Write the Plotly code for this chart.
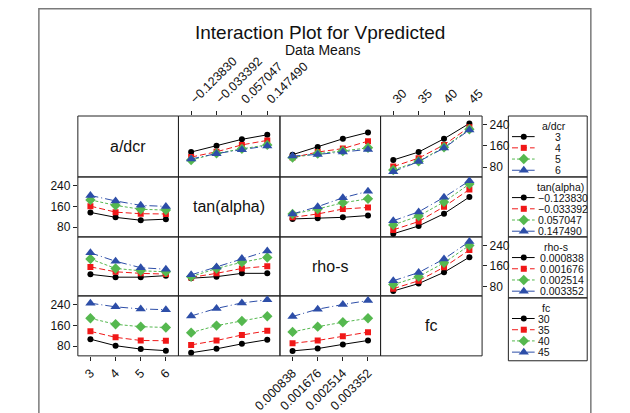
import plotly.graph_objects as go

# ---------------- data ----------------
factor_names = ["a/dcr", "tan(alpha)", "rho-s", "fc"]
adcr_levels = ["3", "4", "5", "6"]
tan_levels = ["\u22120.123830", "\u22120.033392", "0.057047", "0.147490"]
rho_levels = ["0.000838", "0.001676", "0.002514", "0.003352"]
fc_levels = ["30", "35", "40", "45"]
y_ticks = [80, 160, 240]

# two-way data means: rows = levels of first factor, cols = levels of second
mean_adcr_tan = [[137, 161, 185, 202], [118, 138, 164, 181], [107, 132, 149, 164], [111, 131, 146, 160]]
mean_adcr_rho = [[127, 156, 187, 211], [116, 137, 150, 178], [116, 131, 141, 153], [122, 128, 137, 147]]
mean_adcr_fc = [[107, 137, 187, 245], [82, 114, 164, 231], [69, 102, 155, 223], [63, 101, 152, 220]]
mean_tan_rho = [[112, 115, 118, 125], [118, 131, 150, 156], [131, 150, 174, 189], [131, 159, 193, 218]]
mean_tan_fc = [[55, 85, 132, 196], [70, 102, 159, 225], [89, 123, 177, 246], [105, 139, 195, 258]]
mean_rho_fc = [[62, 91, 135, 194], [71, 102, 155, 222], [87, 118, 172, 240], [102, 134, 187, 255]]

# ---------------- layout helpers ----------------
W, H = 630, 413
FONT = "Liberation Sans, Arial, Helvetica, sans-serif"
col_edges = [55, 166, 278, 389, 501]
row_edges = [118, 180, 241, 301, 362]
Y_RANGE = [43, 273]


def fx(px):
    return px / W


def fy(py):
    return 1 - py / H


levels = [adcr_levels, tan_levels, rho_levels, fc_levels]
tables = {(0, 1): mean_adcr_tan, (0, 2): mean_adcr_rho, (0, 3): mean_adcr_fc,
          (1, 2): mean_tan_rho, (1, 3): mean_tan_fc, (2, 3): mean_rho_fc}


def panel_values(r, c):
    if (r, c) in tables:
        return tables[(r, c)]
    t = tables[(c, r)]
    return [list(col) for col in zip(*t)]


styles = [
    dict(color="#000000", dash="solid", symbol="circle", size=6),
    dict(color="#f01818", dash="6px,3px", symbol="square", size=6),
    dict(color="#55b84f", dash="3px,2px", symbol="diamond", size=8),
    dict(color="#2d4ea8", dash="8px,3px,1px,3px", symbol="triangle-up", size=9),
]

fig = go.Figure()
layout_axes = {}
annotations = []
shapes = []

for r in range(4):
    for c in range(4):
        k = r * 4 + c + 1
        xn = "xaxis" if k == 1 else f"xaxis{k}"
        yn = "yaxis" if k == 1 else f"yaxis{k}"
        xr = "x" if k == 1 else f"x{k}"
        yr = "y" if k == 1 else f"y{k}"
        xa = dict(domain=[fx(col_edges[c]), fx(col_edges[c + 1])], range=[-0.5, 3.5],
                  showgrid=False, zeroline=False, showline=False,
                  tickmode="array", tickvals=[0, 1, 2, 3], ticktext=levels[c], anchor=yr,
                  fixedrange=True, tickfont=dict(family=FONT, size=12.5, color="#111"))
        ya = dict(domain=[fy(row_edges[r + 1]), fy(row_edges[r])], range=Y_RANGE,
                  showgrid=False, zeroline=False, showline=False,
                  tickmode="array", tickvals=y_ticks,
                  anchor=xr, fixedrange=True, tickfont=dict(family=FONT, size=12, color="#111"))
        show_x = (r == 3 and c in (0, 2)) or (r == 0 and c in (1, 3))
        if show_x:
            xa.update(ticks="outside", ticklen=4, tickcolor="#222", tickangle=-45,
                      side="top" if r == 0 else "bottom", showticklabels=True)
        else:
            xa.update(ticks="", showticklabels=False)
        show_y = (c == 3 and r in (0, 2)) or (c == 0 and r in (1, 3))
        if show_y:
            ya.update(ticks="outside", ticklen=4, tickcolor="#222",
                      side="right" if c == 3 else "left", showticklabels=True)
        else:
            ya.update(ticks="", showticklabels=False)
        layout_axes[xn] = xa
        layout_axes[yn] = ya

        # panel border
        shapes.append(dict(type="rect", xref="paper", yref="paper",
                           x0=fx(col_edges[c]), x1=fx(col_edges[c + 1]),
                           y0=fy(row_edges[r + 1]), y1=fy(row_edges[r]),
                           line=dict(color="#222222", width=1), layer="below"))

        if r == c:
            annotations.append(dict(
                x=fx((col_edges[c] + col_edges[c + 1]) / 2),
                y=fy((row_edges[r] + row_edges[r + 1]) / 2),
                xref="paper", yref="paper", text=factor_names[r], showarrow=False,
                xanchor="center", yanchor="middle",
                font=dict(family=FONT, size=16, color="#111")))
            continue
        vals = panel_values(r, c)
        for i, st in enumerate(styles):
            fig.add_trace(go.Scatter(
                x=[0, 1, 2, 3], y=vals[i], xaxis=xr, yaxis=yr, mode="lines+markers",
                line=dict(color=st["color"], dash=st["dash"], width=1),
                marker=dict(symbol=st["symbol"], size=st["size"], color=st["color"]),
                showlegend=False, hoverinfo="skip"))

# ---------------- legends (drawn manually, one box per factor) ----------------
LEG_X0, LEG_X1 = 530, 617
leg_tops = [118, 180, 241, 303]
leg_bottom = 367
leg_title_x = [580, 588, 583, 571]
leg_label_x = [579, 561, 563, 561]

# an overlay axis in pixel units for the legend glyphs
layout_axes["xaxis17"] = dict(domain=[0, 1], range=[0, W], visible=False, fixedrange=True, anchor="y17")
layout_axes["yaxis17"] = dict(domain=[0, 1], range=[H, 0], visible=False, fixedrange=True, anchor="x17")

for f in range(4):
    top = leg_tops[f]
    bot = leg_tops[f + 1] if f < 3 else leg_bottom
    shapes.append(dict(type="rect", xref="paper", yref="paper",
                       x0=fx(LEG_X0), x1=fx(LEG_X1), y0=fy(bot), y1=fy(top),
                       line=dict(color="#222", width=1)))
    annotations.append(dict(x=fx(leg_title_x[f]), y=fy(top + 10), xref="paper", yref="paper",
                            text=factor_names[f], showarrow=False, xanchor="center", yanchor="middle",
                            font=dict(family=FONT, size=10.5, color="#111")))
    for i, st in enumerate(styles):
        yy = top + 21 + 11.4 * i
        fig.add_trace(go.Scatter(x=[534, 559], y=[yy, yy], xaxis="x17", yaxis="y17", mode="lines",
                                 line=dict(color=st["color"], dash=st["dash"], width=1),
                                 showlegend=False, hoverinfo="skip"))
        fig.add_trace(go.Scatter(x=[547], y=[yy], xaxis="x17", yaxis="y17", mode="markers",
                                 marker=dict(symbol=st["symbol"], size=st["size"], color=st["color"]),
                                 showlegend=False, hoverinfo="skip"))
        annotations.append(dict(x=fx(leg_label_x[f]), y=fy(yy), xref="paper", yref="paper",
                                text=levels[f][i], showarrow=False, xanchor="left", yanchor="middle",
                                font=dict(family=FONT, size=10.5, color="#111")))

# outer frame
shapes.append(dict(type="rect", xref="paper", yref="paper", x0=fx(12), x1=fx(621),
                   y0=fy(440), y1=fy(9), line=dict(color="#7a7a7a", width=1.5)))

annotations.append(dict(x=fx(322), y=fy(33), xref="paper", yref="paper",
                        text="Interaction Plot for Vpredicted", showarrow=False,
                        xanchor="center", yanchor="middle", font=dict(family=FONT, size=19, color="#111")))
annotations.append(dict(x=fx(325), y=fy(51), xref="paper", yref="paper",
                        text="Data Means", showarrow=False,
                        xanchor="center", yanchor="middle", font=dict(family=FONT, size=14, color="#111")))

fig.update_layout(
    width=W, height=H, margin=dict(l=0, r=0, t=0, b=0, pad=0),
    paper_bgcolor="white", plot_bgcolor="rgba(0,0,0,0)",
    showlegend=False, annotations=annotations, shapes=shapes,
    font=dict(family=FONT, color="#111"),
    **layout_axes)

fig.write_html("out.html")
